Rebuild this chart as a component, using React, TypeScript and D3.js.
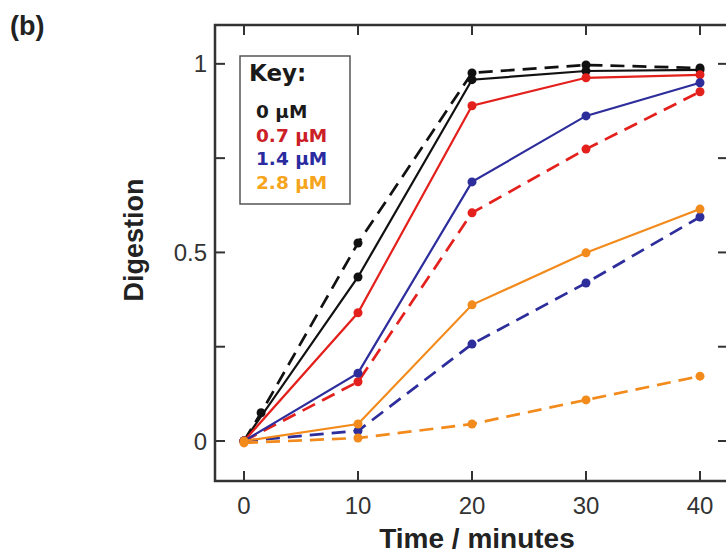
import React from "react";
import * as d3 from "d3";

// ---- data ----
const times = [0, 10, 20, 30, 40];
const blackDashedTimes = [0, 1.5, 10, 20, 30, 40];
const concentrations = ["0 µM", "0.7 µM", "1.4 µM", "2.8 µM"];

const blackSolid = [0, 0.435, 0.958, 0.981, 0.984];
const blackDashed = [0, 0.075, 0.525, 0.976, 0.997, 0.989];
const redSolid = [0, 0.34, 0.889, 0.963, 0.971];
const redDashed = [0, 0.157, 0.605, 0.774, 0.926];
const blueSolid = [0, 0.18, 0.687, 0.862, 0.95];
const blueDashed = [0, 0.027, 0.257, 0.419, 0.594];
const orangeSolid = [0, 0.045, 0.361, 0.499, 0.615];
const orangeDashed = [-0.005, 0.008, 0.045, 0.109, 0.172];

const xTickValues = [0, 10, 20, 30, 40];
const yTickValues = [0, 0.25, 0.5, 0.75, 1];
const yLabelValues = [0, 0.5, 1];

// ---- style ----
const W = 726;
const H = 555;
const frame = { left: 215, right: 728, top: 25, bottom: 481 };
const lineColors = ["#111111", "#e3201c", "#2d2d9c", "#f28a1c"];
const keyColors = ["#1a1a1a", "#cc2028", "#2b2ba0", "#f5a41c"];

export default function App() {
  const x = d3.scaleLinear().domain([-2.544, 42.456]).range([frame.left, frame.right]);
  const y = d3.scaleLinear().domain([-0.106, 1.103]).range([frame.bottom, frame.top]);

  const series = [
    { t: blackDashedTimes, v: blackDashed, c: lineColors[0], dashed: true },
    { t: times, v: blackSolid, c: lineColors[0], dashed: false },
    { t: times, v: redDashed, c: lineColors[1], dashed: true },
    { t: times, v: redSolid, c: lineColors[1], dashed: false },
    { t: times, v: blueDashed, c: lineColors[2], dashed: true },
    { t: times, v: blueSolid, c: lineColors[2], dashed: false },
    { t: times, v: orangeSolid, c: lineColors[3], dashed: false },
    { t: times, v: orangeDashed, c: lineColors[3], dashed: true },
  ];

  const line = d3
    .line<[number, number]>()
    .x((d) => x(d[0]))
    .y((d) => y(d[1]));

  const tickFont = "'Liberation Sans', Arial, Helvetica, sans-serif";
  const tickLen = 10;

  return (
    <svg
      width={W}
      height={H}
      style={{ position: "absolute", left: 0, top: 0, background: "#fff" }}
    >
      <rect x={0} y={0} width={W} height={H} fill="#fff" />

      {/* panel label */}
      <text x={10} y={35} fontFamily={tickFont} fontWeight="bold" fontSize={27} fill="#222">
        (b)
      </text>

      {/* series */}
      {series.map((s, i) => {
        const pts = s.t.map((t, j) => [t, s.v[j]] as [number, number]);
        return (
          <g key={i}>
            <path
              d={line(pts) || ""}
              fill="none"
              stroke={s.c}
              strokeWidth={s.dashed ? 2.7 : 2.2}
              strokeDasharray={s.dashed ? "14,8" : undefined}
            />
            {pts.map((p, j) => (
              <circle key={j} cx={x(p[0])} cy={y(p[1])} r={4.5} fill={s.c} />
            ))}
          </g>
        );
      })}

      {/* frame */}
      <rect
        x={frame.left}
        y={frame.top}
        width={frame.right - frame.left}
        height={frame.bottom - frame.top}
        fill="none"
        stroke="#333"
        strokeWidth={2.5}
      />

      {/* x ticks */}
      {xTickValues.map((t) => (
        <g key={"x" + t}>
          <line x1={x(t)} x2={x(t)} y1={frame.bottom} y2={frame.bottom - tickLen} stroke="#333" strokeWidth={2} />
          <line x1={x(t)} x2={x(t)} y1={frame.top} y2={frame.top + tickLen} stroke="#333" strokeWidth={2} />
          <text x={x(t)} y={514} textAnchor="middle" fontFamily={tickFont} fontSize={24} fill="#333">
            {t}
          </text>
        </g>
      ))}

      {/* y ticks */}
      {yTickValues.map((v) => (
        <g key={"y" + v}>
          <line x1={frame.left} x2={frame.left + tickLen} y1={y(v)} y2={y(v)} stroke="#333" strokeWidth={2} />
          <line x1={frame.right} x2={frame.right - tickLen} y1={y(v)} y2={y(v)} stroke="#333" strokeWidth={2} />
        </g>
      ))}
      {yLabelValues.map((v) => (
        <text
          key={"yl" + v}
          x={207}
          y={y(v) + 8.5}
          textAnchor="end"
          fontFamily={tickFont}
          fontSize={24}
          fill="#333"
        >
          {v}
        </text>
      ))}

      {/* axis titles */}
      <text x={477} y={548} textAnchor="middle" fontFamily={tickFont} fontWeight="bold" fontSize={28} fill="#222">
        Time / minutes
      </text>
      <text
        transform={`translate(143,240) rotate(-90)`}
        textAnchor="middle"
        fontFamily={tickFont}
        fontWeight="bold"
        fontSize={27}
        fill="#222"
      >
        Digestion
      </text>

      {/* key */}
      <rect x={240} y={56} width={110} height={148} fill="#fff" stroke="#555" strokeWidth={1.5} />
      <text x={249} y={81} fontFamily="'DejaVu Sans', sans-serif" fontWeight="bold" fontSize={23} fill="#1a1a1a">
        Key:
      </text>
      {concentrations.map((c, i) => (
        <text
          key={c}
          x={256}
          y={118 + i * 23.5}
          fontFamily="'DejaVu Sans', sans-serif"
          fontWeight="bold"
          fontSize={18.5}
          fill={keyColors[i]}
        >
          {c}
        </text>
      ))}
    </svg>
  );
}
